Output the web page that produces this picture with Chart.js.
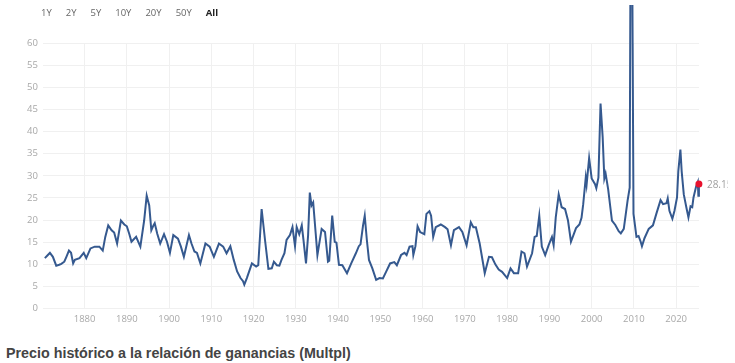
<!DOCTYPE html>
<html>
<head>
<meta charset="utf-8">
<script src="https://cdn.jsdelivr.net/npm/chart.js@4.4.1/dist/chart.umd.min.js"></script>
<style>
	body { margin: 0; background: #fff; }
	#wrap { position: relative; width: 735px; height: 363px; overflow: hidden; }
	#ranges { position: absolute; left: 41px; top: 7px; font: 9.5px "Open Sans", sans-serif; line-height: 12px; color: #666; white-space: nowrap; }
	#ranges span { margin-right: 14px; }
	#ranges span.on { color: #222; font-weight: bold; }
	#title { position: absolute; left: 6px; top: 345px; font: bold 14.3px "Liberation Sans", Arial, sans-serif; line-height: 16px; color: #444; white-space: nowrap; }
	canvas { position: absolute; left: 0; top: 0; }
</style>
</head>
<body>
<div id="wrap">
	<canvas id="peChart" width="735" height="335"></canvas>
	<div id="ranges"></div>
	<div id="title">Precio histórico a la relación de ganancias (Multpl)</div>
</div>
<script>
// Range buttons above the chart
const rangeLabels = ["1Y", "2Y", "5Y", "10Y", "20Y", "50Y", "All"];

// Tick labels
const decadeTicks = [1880, 1890, 1900, 1910, 1920, 1930, 1940, 1950, 1960, 1970, 1980, 1990, 2000, 2010, 2020];
const peTicks = [0, 5, 10, 15, 20, 25, 30, 35, 40, 45, 50, 55, 60];

// S&P 500 P/E ratio (decimal years)
const years = [
	1870.6, 1871.2, 1871.8, 1872.5, 1873.3, 1874.0, 1874.5, 1875.2, 1875.7, 1876.3,
	1876.8, 1877.3, 1877.7, 1878.8, 1879.8, 1880.4, 1881.4, 1882.4, 1883.5, 1884.3,
	1884.9, 1885.6, 1886.4, 1887.0, 1887.7, 1888.6, 1889.4, 1890.0, 1890.6, 1891.1,
	1892.2, 1893.2, 1894.1, 1894.7, 1895.3, 1895.8, 1896.3, 1896.6, 1897.2, 1897.9,
	1898.8, 1899.5, 1900.2, 1901.0, 1902.1, 1902.8, 1903.5, 1904.7, 1905.3, 1906.0,
	1906.6, 1907.4, 1908.6, 1909.6, 1910.6, 1911.8, 1912.8, 1913.6, 1914.5, 1915.3,
	1916.1, 1916.9, 1917.5, 1917.8, 1918.4, 1919.6, 1920.6, 1921.1, 1921.9, 1922.3,
	1922.7, 1923.5, 1924.3, 1924.8, 1925.5, 1926.1, 1926.6, 1927.3, 1927.8, 1928.6,
	1929.2, 1929.8, 1930.2, 1930.8, 1931.4, 1931.8, 1932.4, 1932.9, 1933.3, 1933.7,
	1934.1, 1934.7, 1935.1, 1936.1, 1936.9, 1937.6, 1937.9, 1938.6, 1939.2, 1939.6,
	1940.2, 1941.0, 1942.1, 1943.1, 1944.2, 1944.9, 1945.3, 1945.9, 1946.3, 1946.8,
	1947.3, 1948.1, 1949.0, 1949.8, 1950.6, 1951.4, 1952.3, 1953.3, 1953.9, 1954.9,
	1955.7, 1956.2, 1956.9, 1957.6, 1957.8, 1958.3, 1958.8, 1959.4, 1960.4, 1960.9,
	1961.6, 1962.0, 1962.5, 1963.1, 1964.3, 1965.3, 1965.9, 1966.7, 1967.4, 1968.6,
	1969.4, 1970.4, 1971.4, 1972.0, 1972.6, 1973.5, 1974.7, 1975.7, 1976.4, 1977.2,
	1978.0, 1978.8, 1980.0, 1980.8, 1981.6, 1982.6, 1983.4, 1984.1, 1984.7, 1985.9,
	1986.5, 1987.0, 1987.6, 1988.2, 1989.0, 1989.8, 1990.6, 1991.0, 1991.5, 1992.2,
	1992.9, 1993.7, 1994.4, 1995.1, 1996.3, 1997.1, 1997.6, 1998.0, 1998.6, 1998.8,
	1999.4, 2000.0, 2000.8, 2001.1, 2001.6, 2002.1, 2002.6, 2003.0, 2003.3, 2003.9,
	2004.8, 2005.6, 2006.4, 2006.9, 2007.6, 2008.5, 2009.0, 2009.35, 2009.9, 2010.6,
	2011.1, 2011.6, 2011.9, 2012.5, 2013.5, 2014.5, 2015.3, 2016.3, 2016.9, 2017.7,
	2018.0, 2018.4, 2019.1, 2019.6, 2020.2, 2020.5, 2021.0, 2021.3, 2021.8, 2022.4,
	2022.9, 2023.4, 2023.8, 2024.1, 2024.7, 2025.12, 2025.25, 2025.38
];
const peValues = [
	11.4, 12.0, 12.6, 11.7, 9.7, 9.9, 10.1, 10.6, 11.7, 13.1,
	12.6, 10.2, 11.0, 11.4, 12.6, 11.4, 13.6, 14.0, 14.0, 13.1,
	16.2, 18.8, 17.7, 17.2, 14.7, 19.9, 19.0, 18.6, 16.8, 15.1,
	16.2, 14.0, 19.9, 25.5, 23.3, 17.7, 18.8, 19.3, 16.9, 14.7,
	16.8, 15.1, 12.6, 16.6, 15.8, 14.0, 11.7, 16.6, 14.7, 12.9,
	12.6, 10.2, 14.7, 14.0, 11.7, 14.7, 14.0, 12.5, 14.1, 11.0,
	8.4, 6.9, 6.2, 5.4, 6.9, 10.2, 9.5, 9.8, 22.5, 19.0,
	15.5, 9.0, 9.1, 10.6, 9.8, 9.7, 11.0, 12.5, 15.5, 16.6,
	18.4, 14.1, 18.4, 16.8, 18.8, 15.5, 10.2, 16.6, 26.2, 23.3,
	24.0, 16.9, 12.1, 18.0, 17.3, 10.6, 10.8, 21.0, 15.1, 14.9,
	9.9, 9.8, 8.0, 10.2, 12.5, 14.1, 14.5, 18.8, 21.0, 15.5,
	11.0, 9.1, 6.5, 6.9, 6.8, 8.4, 10.2, 10.5, 9.8, 12.1,
	12.6, 12.1, 14.0, 14.1, 12.1, 14.1, 18.6, 17.3, 16.8, 21.4,
	22.0, 21.0, 16.2, 18.4, 19.0, 18.4, 17.9, 14.3, 17.7, 18.4,
	17.3, 14.3, 19.5, 18.4, 18.4, 14.7, 8.0, 11.7, 11.6, 10.0,
	8.8, 8.3, 6.9, 9.1, 8.0, 8.0, 12.9, 12.5, 9.5, 12.5,
	16.2, 16.4, 21.0, 14.0, 12.1, 14.3, 16.2, 14.3, 20.6, 25.8,
	22.9, 22.5, 19.9, 15.1, 18.2, 19.0, 20.5, 23.6, 29.6, 28.0,
	34.0, 29.4, 28.1, 27.2, 29.6, 46.3, 38.8, 29.4, 30.5, 27.0,
	19.9, 18.9, 17.5, 17.0, 18.0, 24.4, 27.3, 123.7, 21.4, 16.2,
	16.4, 15.1, 14.1, 15.9, 18.0, 18.8, 21.4, 24.5, 23.6, 23.8,
	24.9, 22.1, 20.3, 22.1, 25.1, 31.0, 35.9, 31.0, 25.8, 22.9,
	20.6, 23.1, 22.9, 25.1, 27.5, 28.6, 25.5, 28.15
];

const LINE_COLOR = "#35598f";
const GRID_COLOR = "#f0f0f0";
const TICK_COLOR = "#a8a8a8";

// Range buttons
function drawRanges() {
	const box = document.getElementById("ranges");
	rangeLabels.forEach((label) => {
		const span = document.createElement("span");
		span.textContent = label;
		if (label === "All") span.className = "on";
		box.appendChild(span);
	});
}

// Value label next to the last point (cut off at the right like the original)
const lastValuePlugin = {
	id: "lastValue",
	afterDatasetsDraw(chart) {
		const meta = chart.getDatasetMeta(0);
		const pt = meta.data[meta.data.length - 1];
		const ctx = chart.ctx;
		ctx.save();
		ctx.beginPath();
		ctx.rect(0, 0, chart.width - 7, chart.height);
		ctx.clip();
		ctx.font = "10px 'Open Sans', sans-serif";
		ctx.fillStyle = "#a0a0a0";
		ctx.textBaseline = "middle";
		ctx.fillText(String(peValues[peValues.length - 1]), pt.x + 8, pt.y + 1);
		ctx.restore();
	},
};

function createPeChart(ctx) {
	const lastIndex = years.length - 1;
	return new Chart(ctx, {
		type: "line",
		data: {
			datasets: [
				{
					data: years.map((x, i) => ({ x, y: peValues[i] })),
					borderColor: LINE_COLOR,
					borderWidth: 2,
					tension: 0,
					pointRadius: (c) => (c.dataIndex === lastIndex ? 3.5 : 0),
					pointBackgroundColor: "#e8112d",
					pointBorderWidth: 0,
					clip: { left: 2, top: 38, right: 8, bottom: 2 },
				},
			],
		},
		options: {
			responsive: false,
			animation: false,
			layout: { padding: { top: 43, left: 22, right: 36, bottom: 5 } },
			plugins: {
				legend: { display: false },
				tooltip: { enabled: false },
			},
			scales: {
				x: {
					type: "linear",
					min: 1870.13,
					max: 2025.4,
					afterBuildTicks: (scale) => {
						scale.ticks = decadeTicks.map((v) => ({ value: v }));
					},
					grid: { color: GRID_COLOR, drawTicks: false },
					border: { display: false },
					ticks: {
						padding: 5,
						color: TICK_COLOR,
						font: { family: "'Open Sans', sans-serif", size: 9.5 },
						maxRotation: 0,
						callback: (v) => String(v),
					},
				},
				y: {
					min: peTicks[0],
					max: peTicks[peTicks.length - 1],
					afterBuildTicks: (scale) => {
						scale.ticks = peTicks.map((v) => ({ value: v }));
					},
					grid: { color: GRID_COLOR, drawTicks: false },
					border: { display: false },
					ticks: {
						padding: 5,
						color: TICK_COLOR,
						font: { family: "'Open Sans', sans-serif", size: 9.5 },
					},
				},
			},
		},
		plugins: [lastValuePlugin],
	});
}

drawRanges();
createPeChart(document.getElementById("peChart"));
</script>
</body>
</html>
